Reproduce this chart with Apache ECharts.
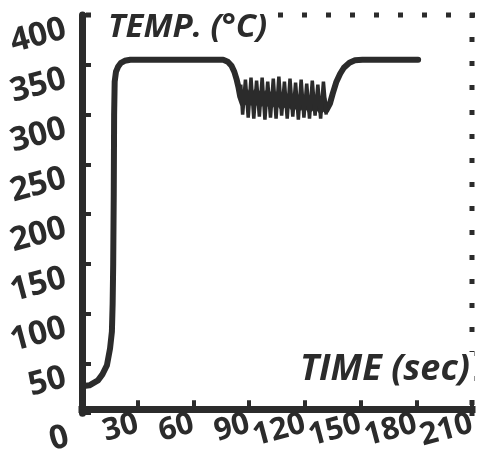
<!DOCTYPE html>
<html>
<head>
<meta charset="utf-8">
<script src="https://cdn.jsdelivr.net/npm/echarts@6/dist/echarts.min.js"></script>
<style>html,body{margin:0;padding:0;background:#fff;}#c{width:486px;height:458px;}</style>
</head>
<body>
<div id="c"></div>
<script>
// ---- data ----
var xTicks = [0, 30, 60, 90, 120, 150, 180, 210];
var yTicks = [0, 50, 100, 150, 200, 250, 300, 350, 400];
var yTitle = 'TEMP. (°C)';
var xTitle = 'TIME (sec)';

// main temperature profile (thick line)
var mainTime = [0, 4, 8.6, 11, 13.4, 15.1, 16.1, 16.5, 16.8, 17.1, 17.3, 17.6, 18.3, 19.4, 21, 23, 26,
  76, 78.5, 80.5, 82, 83.3, 84.3, 85.2,
  86.5, 88, 89.5, 91, 92.5, 94, 95.5, 97, 98.5, 100, 101.5, 103, 104.5, 106, 107.5, 109, 110.5, 112, 113.5, 115,
  116.5, 118, 119.5, 121, 122.5, 124, 125.5, 127, 128.5, 130, 131.5,
  132.5, 133.5, 135, 137, 139, 141, 144, 147, 151, 181];
var mainTemp = [27, 28, 33, 39, 48, 65, 82, 110, 150, 220, 300, 333, 343, 348, 352, 354, 355,
  355, 353, 349, 343, 335, 327, 318,
  311, 323, 311, 323, 311, 323, 310, 322, 310, 322, 309, 321, 309, 321, 308, 320, 308, 319, 307, 319,
  306, 318, 306, 317, 305, 317, 305, 316, 304, 316, 304,
  303, 311, 321, 333, 341, 347, 352, 354.5, 355, 355];

// temperature fluctuation spikes (thin line)
var noiseTime = [85.5, 86.5, 88, 89.5, 91, 92.5, 94, 95.5, 97, 98.5, 100, 101.5, 103, 104.5, 106, 107.5, 109, 110.5, 112, 113.5, 115,
  116.5, 118, 119.5, 121, 122.5, 124, 125.5, 127, 128.5, 130, 131.5];
var noiseTemp = [330, 300, 335, 297, 337, 296, 334, 298, 337, 295, 333, 297, 336, 296, 338, 299, 333, 296, 336, 298, 332,
  295, 335, 297, 331, 296, 334, 299, 330, 296, 333, 300];

// spacing of the dotted frame (in axis units)
var topDotStep = 12.923;
var rightDotStep = 24.3;

var INK = '#2b2b2b';
var FONT = '"Open Sans", "DejaVu Sans", sans-serif';

function pairs(xs, ys) { return xs.map(function (x, i) { return [x, ys[i]]; }); }

var chart = echarts.init(document.getElementById('c'), null, {renderer: 'canvas'});
var xLabelStyle = {color: INK, fontFamily: FONT, fontWeight: 'bold', fontSize: 31};
var yLabelStyle = {color: INK, fontFamily: FONT, fontWeight: 'bold', fontSize: 33};
var dotTick = {show: true, inside: false, length: 5, lineStyle: {color: INK, width: 5, cap: 'butt'}};

chart.setOption({
  animation: false,
  backgroundColor: '#fff',
  grid: {left: 82, right: 14, top: 15, bottom: 43, containLabel: false},
  title: [
    {text: yTitle, left: 99, top: 11, padding: [0, 6, 0, 9], backgroundColor: '#fff',
      textStyle: {color: INK, fontFamily: FONT, fontWeight: 'bold', fontStyle: 'italic', fontSize: 33}},
    {text: xTitle, right: 12, top: 352, padding: [0, 4, 0, 0], backgroundColor: '#fff',
      textStyle: {color: INK, fontFamily: FONT, fontWeight: 'bold', fontStyle: 'italic', fontSize: 36}}
  ],
  xAxis: [
    {type: 'value', min: xTicks[0], max: xTicks[xTicks.length - 1], interval: 30, offset: -4,
      axisLine: {show: true, lineStyle: {color: INK, width: 7, cap: 'square'}},
      axisTick: {show: true, inside: true, length: 9, lineStyle: {color: INK, width: 4}},
      axisLabel: Object.assign({rotate: 15, margin: 14, showMinLabel: true,
        formatter: function (v) { return v === 0 ? '' : String(v); }}, xLabelStyle),
      splitLine: {show: false}},
    {type: 'value', position: 'top', inverse: true, min: 0, max: xTicks[xTicks.length - 1], interval: topDotStep,
      offset: -2.5,
      axisLine: {show: false, onZero: false},
      axisTick: dotTick, axisLabel: {show: false}, splitLine: {show: false}}
  ],
  yAxis: [
    {type: 'value', min: yTicks[0], max: yTicks[yTicks.length - 1], interval: 50,
      axisLine: {show: true, lineStyle: {color: INK, width: 7}},
      axisTick: {show: true, inside: true, length: 9, lineStyle: {color: INK, width: 4}},
      axisLabel: Object.assign({rotate: 15, margin: 20, padding: [28, 0, 0, 0],
        formatter: function (v) { return v === 0 ? '{z|0}' : String(v); },
        rich: {z: {color: INK, fontFamily: FONT, fontWeight: 'bold', fontSize: 33, padding: [20, 0, 0, 0]}}}, yLabelStyle),
      splitLine: {show: false}},
    {type: 'value', position: 'right', inverse: true, min: 0, max: yTicks[yTicks.length - 1], interval: rightDotStep,
      offset: -2.5,
      axisLine: {show: false, onZero: false},
      axisTick: dotTick, axisLabel: {show: false}, splitLine: {show: false}}
  ],
  series: [
    {type: 'line', data: pairs(mainTime, mainTemp), showSymbol: false, smooth: false,
      lineStyle: {color: INK, width: 6, cap: 'round', join: 'round'}, z: 3},
    {type: 'line', data: pairs(noiseTime, noiseTemp), showSymbol: false, smooth: false,
      lineStyle: {color: INK, width: 3.5, join: 'miter'}, z: 4}
  ]
});
</script>
</body>
</html>
